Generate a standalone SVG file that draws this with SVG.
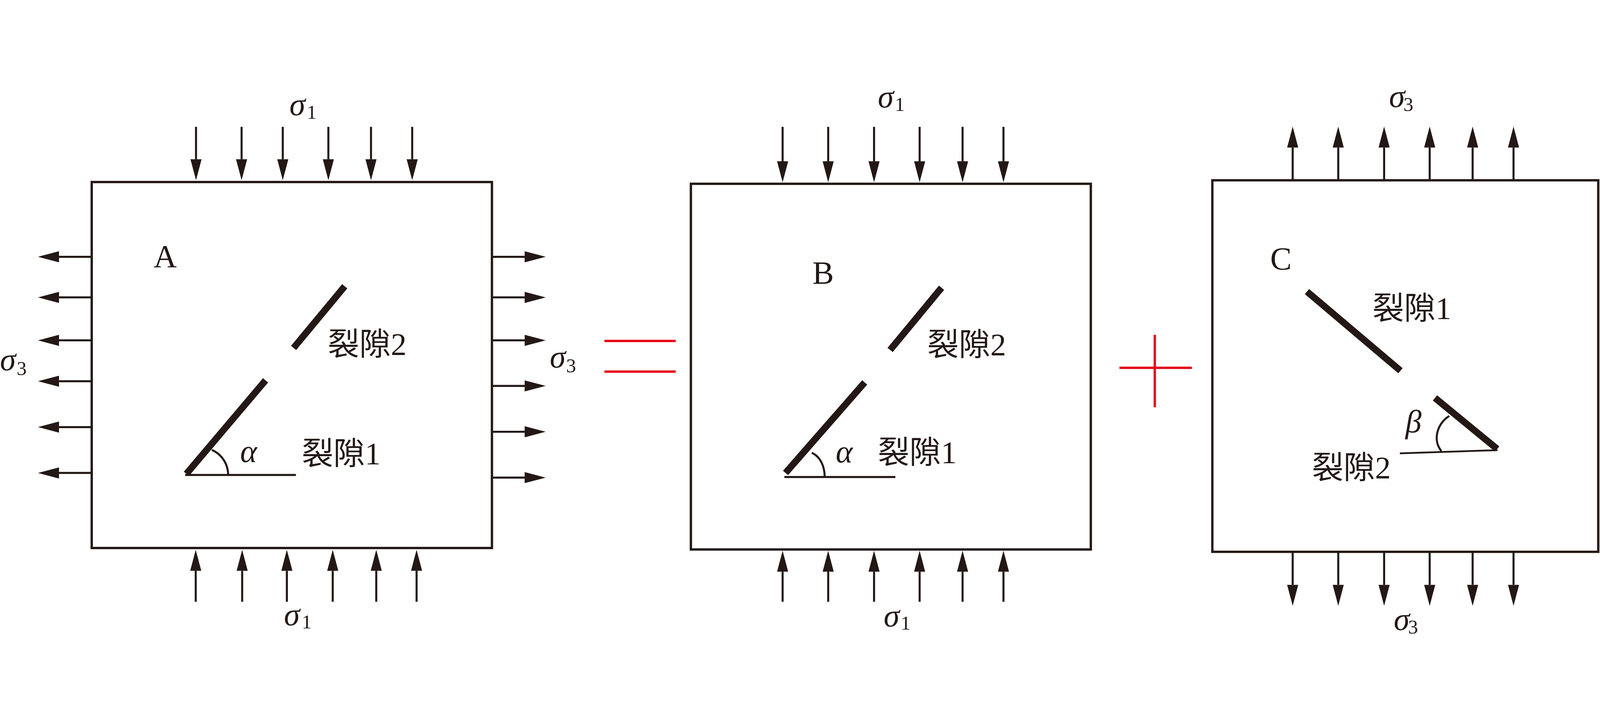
<svg xmlns="http://www.w3.org/2000/svg" width="5477" height="1864" viewBox="0 0 5477 1864" style="width:100vw;height:100vh;display:block">
<style>
.box{fill:none;stroke:#231815;stroke-width:8}
.ar{stroke:#231815;stroke-width:7;fill:none;marker-end:url(#ah)}
.crack{stroke:#231815;stroke-width:23;stroke-linecap:butt}
.thin{stroke:#231815;stroke-width:7;fill:none}
.red{stroke:#e60012;stroke-width:8}
.lab{font-family:"Liberation Serif","Noto Sans CJK SC",serif;font-size:108px;fill:#231815}
.let{font-family:"Liberation Serif",serif;font-size:110px;fill:#231815}
.gr{font-family:"Liberation Serif",serif;font-style:italic;font-size:110px;fill:#231815}
.sub{font-family:"Liberation Serif",serif;font-size:68px;fill:#231815}
</style>
<defs>
<marker id="ah" markerUnits="userSpaceOnUse" markerWidth="80" markerHeight="44" viewBox="0 -22 80 44" refX="0" refY="0" orient="auto" overflow="visible">
<path d="M0,-19 L72,0 L0,19 z" fill="#231815"/>
</marker>
</defs>
<rect width="5477" height="1864" fill="#fff"/>

<g id="nodeA">
<rect class="box" x="314" y="309" width="1370" height="1253"/>
<line class="crack" x1="638" y1="1308" x2="909" y2="988"/>
<line class="crack" x1="1005" y1="877" x2="1180" y2="666"/>
<line class="thin" x1="634" y1="1312" x2="1013" y2="1312"/>
<path class="thin" d="M725,1226 C762,1242 781,1278 781,1312"/>
<text class="let" x="526" y="600">A</text>
<text class="gr" x="822" y="1267">α</text>
<text class="lab" x="1033" y="1276">裂隙1</text>
<text class="lab" x="1122" y="901">裂隙2</text>
</g>

<g id="nodeB">
<rect class="box" x="2365" y="315" width="1369" height="1252"/>
<line class="crack" x1="2689" y1="1305" x2="2960" y2="995"/>
<line class="crack" x1="3047" y1="884" x2="3223" y2="671"/>
<line class="thin" x1="2685" y1="1319" x2="3065" y2="1319"/>
<path class="thin" d="M2779,1236 C2810,1250 2823,1285 2823,1319"/>
<text class="let" x="2781" y="657">B</text>
<text class="gr" x="2861" y="1269">α</text>
<text class="lab" x="3005" y="1271">裂隙1</text>
<text class="lab" x="3174" y="903">裂隙2</text>
</g>

<g id="nodeC">
<rect class="box" x="4150" y="303" width="1321" height="1272"/>
<line class="crack" x1="4474" y1="684" x2="4794" y2="955"/>
<line class="crack" x1="4912" y1="1048" x2="5125" y2="1223"/>
<line class="thin" x1="4792" y1="1238" x2="5126" y2="1227" style="stroke-width:6"/>
<path class="thin" d="M4961,1110 C4920,1135 4903,1192 4934,1230"/>
<text class="let" x="4348" y="609">C</text>
<text class="gr" x="4811" y="1166">β</text>
<text class="lab" x="4698" y="778">裂隙1</text>
<text class="lab" x="4491" y="1324">裂隙2</text>
</g>

<g id="operators">
<line class="red" x1="2069" y1="853" x2="2313" y2="853"/>
<line class="red" x1="2069" y1="958" x2="2313" y2="958"/>
<line class="red" x1="3832" y1="945" x2="4080" y2="945"/>
<line class="red" x1="3953" y1="832" x2="3953" y2="1080"/>
</g>

<g id="connectors">
<line class="ar" x1="671" y1="120" x2="671" y2="231"/>
<line class="ar" x1="827" y1="120" x2="827" y2="231"/>
<line class="ar" x1="968" y1="120" x2="968" y2="231"/>
<line class="ar" x1="1124" y1="120" x2="1124" y2="231"/>
<line class="ar" x1="1270" y1="120" x2="1270" y2="231"/>
<line class="ar" x1="1411" y1="120" x2="1411" y2="231"/>
<line class="ar" x1="670" y1="1746" x2="670" y2="1640"/>
<line class="ar" x1="829" y1="1746" x2="829" y2="1640"/>
<line class="ar" x1="982" y1="1746" x2="982" y2="1640"/>
<line class="ar" x1="1139" y1="1746" x2="1139" y2="1640"/>
<line class="ar" x1="1288" y1="1746" x2="1288" y2="1640"/>
<line class="ar" x1="1426" y1="1746" x2="1426" y2="1640"/>
<line class="ar" x1="312" y1="565" x2="202" y2="565"/>
<line class="ar" x1="312" y1="704" x2="202" y2="704"/>
<line class="ar" x1="312" y1="851" x2="202" y2="851"/>
<line class="ar" x1="312" y1="991" x2="202" y2="991"/>
<line class="ar" x1="312" y1="1148" x2="202" y2="1148"/>
<line class="ar" x1="312" y1="1305" x2="202" y2="1305"/>
<line class="ar" x1="1686" y1="565" x2="1796" y2="565"/>
<line class="ar" x1="1686" y1="704" x2="1796" y2="704"/>
<line class="ar" x1="1686" y1="851" x2="1796" y2="851"/>
<line class="ar" x1="1686" y1="1007" x2="1796" y2="1007"/>
<line class="ar" x1="1686" y1="1164" x2="1796" y2="1164"/>
<line class="ar" x1="1686" y1="1321" x2="1796" y2="1321"/>
<line class="ar" x1="2679" y1="120" x2="2679" y2="238"/>
<line class="ar" x1="2835" y1="120" x2="2835" y2="238"/>
<line class="ar" x1="2992" y1="120" x2="2992" y2="238"/>
<line class="ar" x1="3148" y1="120" x2="3148" y2="238"/>
<line class="ar" x1="3295" y1="120" x2="3295" y2="238"/>
<line class="ar" x1="3435" y1="120" x2="3435" y2="238"/>
<line class="ar" x1="2679" y1="1746" x2="2679" y2="1643"/>
<line class="ar" x1="2835" y1="1746" x2="2835" y2="1643"/>
<line class="ar" x1="2992" y1="1746" x2="2992" y2="1643"/>
<line class="ar" x1="3148" y1="1746" x2="3148" y2="1643"/>
<line class="ar" x1="3295" y1="1746" x2="3295" y2="1643"/>
<line class="ar" x1="3435" y1="1746" x2="3435" y2="1643"/>
<line class="ar" x1="4425" y1="301" x2="4425" y2="191"/>
<line class="ar" x1="4581" y1="301" x2="4581" y2="191"/>
<line class="ar" x1="4738" y1="301" x2="4738" y2="191"/>
<line class="ar" x1="4894" y1="301" x2="4894" y2="191"/>
<line class="ar" x1="5041" y1="301" x2="5041" y2="191"/>
<line class="ar" x1="5181" y1="301" x2="5181" y2="191"/>
<line class="ar" x1="4425" y1="1577" x2="4425" y2="1688"/>
<line class="ar" x1="4581" y1="1577" x2="4581" y2="1688"/>
<line class="ar" x1="4738" y1="1577" x2="4738" y2="1688"/>
<line class="ar" x1="4894" y1="1577" x2="4894" y2="1688"/>
<line class="ar" x1="5041" y1="1577" x2="5041" y2="1688"/>
<line class="ar" x1="5181" y1="1577" x2="5181" y2="1688"/>
</g>

<g id="stress-labels">
<text class="gr" x="991" y="80">σ</text><text class="sub" x="1050" y="92">1</text>
<text class="gr" x="972" y="1826">σ</text><text class="sub" x="1033" y="1837">1</text>
<text class="gr" x="0" y="954">σ</text><text class="sub" x="57" y="970">3</text>
<text class="gr" x="1882" y="944">σ</text><text class="sub" x="1938" y="960">3</text>
<text class="gr" x="3005" y="54">σ</text><text class="sub" x="3063" y="65">1</text>
<text class="gr" x="3025" y="1830">σ</text><text class="sub" x="3083" y="1841">1</text>
<text class="gr" x="4755" y="52">σ</text><text class="sub" x="4804" y="65">3</text>
<text class="gr" x="4771" y="1843">σ</text><text class="sub" x="4820" y="1855">3</text>
</g>
</svg>
